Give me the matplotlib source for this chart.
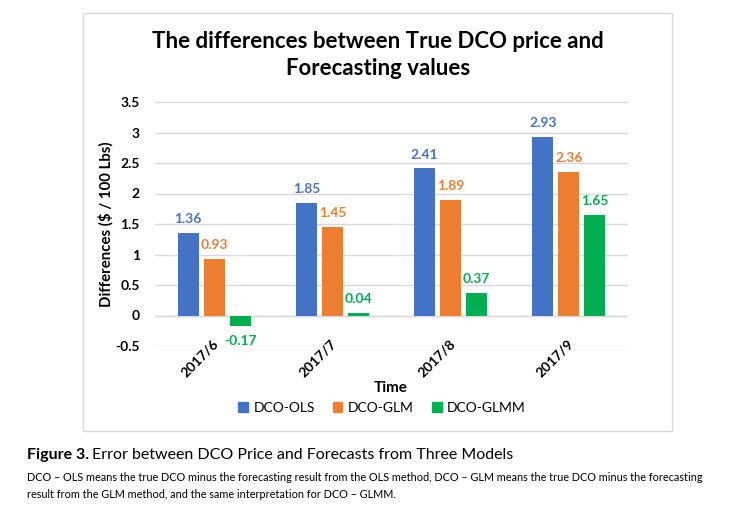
import matplotlib
matplotlib.use("Agg")
import matplotlib.pyplot as plt
import matplotlib.patches as mpatches
import numpy as np

plt.rcParams["font.family"] = ["Lato", "DejaVu Sans"]

# ── Data ─────────────────────────────────────────────────────────────────────
months = ["2017/6", "2017/7", "2017/8", "2017/9"]
dco_ols = [1.36, 1.85, 2.41, 2.93]
dco_glm = [0.93, 1.45, 1.89, 2.36]
dco_glmm = [-0.17, 0.04, 0.37, 1.65]
series_names = ["DCO-OLS", "DCO-GLM", "DCO-GLMM"]
y_ticks = [-0.5, 0, 0.5, 1, 1.5, 2, 2.5, 3, 3.5]
y_tick_labels = ["-0.5", "0", "0.5", "1", "1.5", "2", "2.5", "3", "3.5"]

colors = ["#4472C4", "#ED7D31", "#00B050"]

W, H = 750, 517
fig = plt.figure(figsize=(W / 100, H / 100), dpi=100)
fig.patch.set_facecolor("white")

# chart frame (Excel chart area border)
fig.patches.append(mpatches.Rectangle(
    (83 / W, 1 - 431 / H), (672 - 83) / W, (431 - 13) / H,
    transform=fig.transFigure, fill=False, edgecolor="#d9d9d9", linewidth=1.0))

ax = fig.add_axes([155 / W, 1 - 346 / H, 473 / W, 244 / H])

x = np.arange(len(months))
bw = 0.178
offsets = [-0.22, 0.0, 0.22]
for vals, off, c in zip([dco_ols, dco_glm, dco_glmm], offsets, colors):
    ax.bar(x + off, vals, width=bw, color=c, zorder=3)
    for xi, v in zip(x, vals):
        ax.annotate(f"{v:.2f}", xy=(xi + off, v),
                    xytext=(0, 10 if v >= 0 else -11), textcoords="offset points",
                    ha="center", va="center", fontsize=10, fontweight="bold",
                    color=c)

ax.set_xlim(-0.5, len(months) - 0.5)
ax.set_ylim(-0.5, 3.5)
ax.set_yticks(y_ticks)
ax.set_yticklabels(y_tick_labels, fontsize=10, fontweight="bold")
ax.tick_params(axis="y", length=0, pad=11)
ax.set_xticks([])
ax.grid(axis="y", color="#d9d9d9", linewidth=1.0, zorder=0)
ax.axhline(0, color="#d9d9d9", linewidth=1.0, zorder=2)
for s in ax.spines.values():
    s.set_visible(False)

# category labels, rotated, sitting just under the zero line
for xi, m in zip(x, months):
    ax.text(xi + 0.02, -0.43, m, rotation=45, rotation_mode="anchor",
            ha="right", va="center", fontsize=10, fontweight="bold")

ax.set_ylabel("Differences ($ / 100 Lbs)", fontsize=10.8, fontweight="bold",
              labelpad=1)

fig.text(391 / W, 1 - 388 / H, "Time", ha="center", va="center",
         fontsize=11, fontweight="bold")

handles = [mpatches.Patch(color=c, label=n) for c, n in zip(colors, series_names)]
fig.legend(handles=handles, loc="center", bbox_to_anchor=(382 / W, 1 - 408 / H),
           ncol=3, frameon=False, fontsize=10, handlelength=0.7,
           handleheight=0.7, handletextpad=0.4, columnspacing=1.3)

fig.text(378 / W, 1 - 55 / H,
         "The differences between True DCO price and\nForecasting values",
         ha="center", va="center", fontsize=16, fontweight="bold",
         linespacing=1.4)

# ── Caption ──────────────────────────────────────────────────────────────────
fig.text(27 / W, 1 - 455 / H, "Figure 3.", ha="left", va="center",
         fontsize=11.5, fontweight="bold")
fig.text(92 / W, 1 - 455 / H,
         "Error between DCO Price and Forecasts from Three Models",
         ha="left", va="center", fontsize=11.5)
fig.text(27 / W, 1 - 486 / H,
         "DCO – OLS means the true DCO minus the forecasting result from the OLS "
         "method, DCO – GLM means the true DCO minus the forecasting\n"
         "result from the GLM method, and the same interpretation for DCO – GLMM.",
         ha="left", va="center", fontsize=7.8, linespacing=1.75)

fig.savefig("out.png", dpi=100, facecolor="white")
